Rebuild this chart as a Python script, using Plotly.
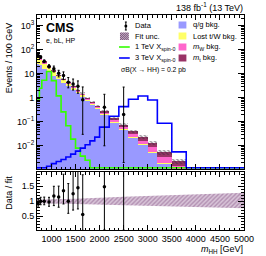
import plotly.graph_objects as go
import numpy as np

# ---------------- data ----------------
bin_edges = [700, 750, 800, 900, 1000, 1100, 1200, 1300, 1400, 1500, 1600, 1700,
             1800, 1900, 2000, 2200, 2400, 2600, 2800, 3000, 3200, 3500, 3800]
# background components (events / 100 GeV)
qg_bkg = [26, 23, 16.5, 11.5, 8.3, 6.0, 4.3, 3.1, 2.2, 1.57, 1.13, 0.76, 0.51, 0.34,
          0.19, 0.092, 0.045, 0.021, 0.011, 0.0052, 0.0018, 0.0007]
lost_tw_bkg = [18, 15, 9.3, 5.3, 3.1, 1.8, 1.07, 0.66, 0.39, 0.23, 0.135, 0.08, 0.048,
               0.028, 0.014, 0.0065, 0.003, 0.0014, 0.0007, 0.00035, 0.00014, 0.00005]
mw_bkg = [3.6, 3.0, 1.8, 1.1, 0.75, 0.52, 0.37, 0.27, 0.2, 0.15, 0.11, 0.08, 0.06,
          0.045, 0.031, 0.019, 0.012, 0.0075, 0.0048, 0.0031, 0.0015, 0.00065]
mt_bkg = [12.4, 9.0, 5.4, 3.1, 1.85, 0.98, 0.56, 0.37, 0.21, 0.15, 0.125, 0.08, 0.062,
          0.047, 0.035, 0.0225, 0.015, 0.0101, 0.0065, 0.0044, 0.0021, 0.0009]
fit_unc_rel = [0.07, 0.07, 0.07, 0.08, 0.08, 0.09, 0.09, 0.10, 0.10, 0.11, 0.11, 0.12,
               0.12, 0.13, 0.14, 0.15, 0.16, 0.18, 0.19, 0.20, 0.22, 0.24]
# data (events / 100 GeV); None = empty bin
data_vals = [57, 50, 33, 20.4, 16.4, 10.6, 8.5, 4.4, 3.75, 3.05, 0.83, None, None, None,
             0.4, None, 0.2, None, None, None, None, None]
data_err_lo = [7, 6, 4, 3, 4.5, 3.2, 2.8, 1.8, 1.65, 1.5, 0.8, 0, 0, 0,
               0.39, 0, 0.198, 0, 0, 0, 0, 0]
data_err_hi = [7.5, 6.5, 4.5, 3.3, 4.6, 3.4, 3.5, 2.6, 2.3, 2.0, 2.0, 0, 0, 0,
               1.0, 0, 2.6, 0, 0, 0, 0, 0]
# signals
sig_1tev = [0.8, 2.5, 5.4, 12.4, 5.2, 1.2, 0.26, 0.068, 0.019, 0.008, 0.0037, 0.0025,
            0, 0, 0, 0, 0, 0, 0, 0, 0, 0]
sig_3tev = [0, 0, 0, 0.0014, 0.0018, 0.0022, 0.0027, 0.0034, 0.0045, 0.006, 0.008, 0.011,
            0.016, 0.023, 0.06, 0.17, 0.43, 0.87, 1.19, 0.81, 0.087, 0.0056]
# ratio panel fit-uncertainty band
ratio_band_x = [700, 1500, 2500, 3500, 5000]
ratio_band_lo = [0.93, 0.90, 0.85, 0.81, 0.76]
ratio_band_hi = [1.05, 1.08, 1.15, 1.20, 1.28]

x_ticks = [1000, 1500, 2000, 2500, 3000, 3500, 4000, 4500, 5000]

# ---------------- geometry ----------------
W, H = 266, 256
L, R, T, B = 37, 249, 15, 230
YLOG_MIN, YLOG_MAX = -2.967, 3.45
YMIN = 10 ** YLOG_MIN


def px2x(px):
    return (px - L) / (R - L)


def px2y(py):
    return (B - py) / (B - T)


edges = np.array(bin_edges, dtype=float)
centers = 0.5 * (edges[1:] + edges[:-1])
widths = edges[1:] - edges[:-1]
qg = np.array(qg_bkg)
tw = np.array(lost_tw_bkg)
mw = np.array(mw_bkg)
mt = np.array(mt_bkg)
c1 = qg
c2 = c1 + tw
c3 = c2 + mw
c4 = c3 + mt
total = c4
unc = np.array(fit_unc_rel)

C_QG = "#9999ff"
C_TW = "#ffff66"
C_MW = "#ff66cc"
C_MT = "#993366"
C_GREEN = "#33ff00"
C_BLUE = "#0000ff"
FONT = "Liberation Sans, Arial, Helvetica, sans-serif"

fig = go.Figure()

for cum, col in [(c4, C_MT), (c3, C_MW), (c2, C_TW), (c1, C_QG)]:
    fig.add_trace(go.Bar(x=centers, y=cum, width=widths, marker=dict(color=col, line=dict(width=0)),
                         opacity=1, xaxis="x", yaxis="y", showlegend=False, hoverinfo="skip"))

# fit uncertainty hatched band
fig.add_trace(go.Bar(x=centers, y=total * 2 * unc, base=total * (1 - unc), width=widths,
                     marker=dict(color="rgba(0,0,0,0)", line=dict(width=0),
                                 pattern=dict(shape="\\", fgcolor="#3a2a3a", bgcolor="rgba(0,0,0,0)",
                                              size=3, solidity=0.5)),
                     xaxis="x", yaxis="y", showlegend=False, hoverinfo="skip"))


def step(vals):
    v = np.maximum(np.array(vals, dtype=float), YMIN * 1.12)
    xs = list(edges) + [5000]
    ys = list(v) + [YMIN * 1.12, YMIN * 1.12]
    return xs, ys


xs, ys = step(sig_1tev)
fig.add_trace(go.Scatter(x=xs, y=ys, mode="lines", line=dict(color=C_GREEN, width=1.6, shape="hv"),
                         xaxis="x", yaxis="y", showlegend=False, hoverinfo="skip"))
xs, ys = step(sig_3tev)
fig.add_trace(go.Scatter(x=xs, y=ys, mode="lines", line=dict(color=C_BLUE, width=1.6, shape="hv"),
                         xaxis="x", yaxis="y", showlegend=False, hoverinfo="skip"))

# data points
dmask = [v is not None for v in data_vals]
dx = centers[dmask]
dy = np.array([v for v in data_vals if v is not None])
dlo = np.array(data_err_lo)[dmask]
dhi = np.array(data_err_hi)[dmask]
fig.add_trace(go.Scatter(x=dx, y=dy, mode="markers", marker=dict(color="black", size=3.5),
                         error_y=dict(type="data", symmetric=False, array=dhi, arrayminus=dlo,
                                      color="black", thickness=1, width=1),
                         xaxis="x", yaxis="y", showlegend=False, hoverinfo="skip"))

# ratio band
bx = list(ratio_band_x) + list(ratio_band_x)[::-1]
by = list(ratio_band_hi) + list(ratio_band_lo)[::-1]
fig.add_trace(go.Scatter(x=bx, y=by, mode="lines", line=dict(width=0), fill="toself",
                         fillcolor="rgba(225,205,225,1)",
                         fillpattern=dict(shape="/", fgcolor="#8a5a8a", bgcolor="#d8c4d8", size=3, solidity=0.45),
                         xaxis="x2", yaxis="y2", showlegend=False, hoverinfo="skip"))

tot_d = total[dmask]
fig.add_trace(go.Scatter(x=dx, y=dy / tot_d, mode="markers", marker=dict(color="black", size=3.5),
                         error_y=dict(type="data", symmetric=False, array=dhi / tot_d, arrayminus=dlo / tot_d,
                                      color="black", thickness=1, width=1),
                         xaxis="x2", yaxis="y2", showlegend=False, hoverinfo="skip"))

# ---------------- axes ----------------
minor_log = [k * 10.0 ** n for n in range(-3, 4) for k in range(2, 10)]
axis_common = dict(showline=True, linecolor="black", linewidth=1, mirror="allticks", ticks="inside",
                   tickcolor="black", showgrid=False, zeroline=False,
                   tickfont=dict(family=FONT, size=9, color="black"))

top_dom = [px2y(169), 1]
low_dom = [0, px2y(172)]

fig.update_layout(
    width=W, height=H, margin=dict(l=L, r=W - R, t=T, b=H - B, pad=0),
    paper_bgcolor="white", plot_bgcolor="white", barmode="overlay", bargap=0,
    showlegend=False, font=dict(family=FONT, color="black"),
    xaxis=dict(axis_common, range=[700, 5000], tickvals=x_ticks, showticklabels=False, ticklen=5,
               minor=dict(ticks="inside", ticklen=2.5, dtick=100, tick0=0, tickcolor="black"),
               anchor="y", domain=[0, 1]),
    yaxis=dict(axis_common, type="log", range=[YLOG_MIN, YLOG_MAX], domain=top_dom, anchor="x",
               tickvals=[1e-2, 1e-1, 1, 10, 100, 1000],
               ticktext=["10<sup>−2</sup>", "10<sup>−1</sup>", "1", "10", "10<sup>2</sup>", "10<sup>3</sup>"],
               ticklen=6, minor=dict(ticks="inside", ticklen=3, tickvals=minor_log, tickcolor="black")),
    xaxis2=dict(axis_common, range=[700, 5000], tickvals=x_ticks, ticktext=[str(t) for t in x_ticks],
                ticklen=5, anchor="y2", domain=[0, 1],
                minor=dict(ticks="inside", ticklen=2.5, dtick=100, tick0=0, tickcolor="black")),
    yaxis2=dict(axis_common, range=[0.03, 1.98], domain=low_dom, anchor="x2",
                tickvals=[0.5, 1, 1.5], ticktext=["0.5", "1", "1.5"], ticklen=6,
                minor=dict(ticks="inside", ticklen=3, dtick=0.1, tick0=0, tickcolor="black")),
)

ann = []


def text(px, py, s, size, xanchor="left", yanchor="middle", bold=False, angle=0):
    ann.append(dict(x=px2x(px), y=px2y(py), xref="paper", yref="paper", text=("<b>%s</b>" % s) if bold else s,
                    showarrow=False, xanchor=xanchor, yanchor=yanchor, textangle=angle,
                    font=dict(family=FONT, size=size, color="black")))


text(250, 7, "138 fb<sup>-1</sup> (13 TeV)", 9, xanchor="right")
text(44, 28, "CMS", 12.5, bold=True)
text(44, 41, "e, bL, HP", 7)
text(8, 20, "Events / 100 GeV", 9, xanchor="center", yanchor="top", angle=-90)
text(8, 174, "Data / fit", 9, xanchor="center", yanchor="top", angle=-90)
text(250, 249, "<i>m</i><sub>HH</sub> [GeV]", 9, xanchor="right")

# legend column 1
text(135, 26, "Data", 7.5)
text(135, 36, "Fit unc.", 7.5)
text(135, 47, "1 TeV X<sub>spin-0</sub>", 7.5)
text(135, 58, "3 TeV X<sub>spin-0</sub>", 7.5)
text(121, 70, "σB(X → HH) = 0.2 pb", 6.8)
# legend column 2
text(195, 25, "q/g bkg.", 7.5)
text(195, 36, "Lost t/W bkg.", 7.5)
text(195, 47, "<i>m</i><sub>W</sub> bkg.", 7.5)
text(195, 58, "<i>m</i><sub>t</sub> bkg.", 7.5)

shapes = []


def rect(x0, y0, x1, y1, color, **kw):
    d = dict(type="rect", xref="paper", yref="paper", x0=px2x(x0), x1=px2x(x1), y0=px2y(y1), y1=px2y(y0),
             fillcolor=color, line=dict(width=0))
    d.update(kw)
    shapes.append(d)


def line(x0, y0, x1, y1, color, w):
    shapes.append(dict(type="line", xref="paper", yref="paper", x0=px2x(x0), x1=px2x(x1), y0=px2y(y0),
                       y1=px2y(y1), line=dict(color=color, width=w)))


# data swatch
line(128, 22, 128, 30, "black", 1)
line(127, 22, 129, 22, "black", 1)
line(127, 30, 129, 30, "black", 1)
shapes.append(dict(type="circle", xref="paper", yref="paper", x0=px2x(126.5), x1=px2x(129.5),
                   y0=px2y(27.5), y1=px2y(24.5), fillcolor="black", line=dict(width=0)))
# fit unc swatch (hatched)
rect(122, 32.5, 131, 40, "#c4a8c4")
for i in range(-8, 10, 2):
    xa, ya, xb, yb = 122 + i, 40, 122 + i + 7.5, 32.5
    if xa < 122:
        ya = 40 - (122 - xa); xa = 122
    if xb > 131:
        yb = 32.5 + (xb - 131); xb = 131
    if xa < xb:
        line(xa, ya, xb, yb, "#6a4a6a", 0.8)
line(121, 47, 132, 47, C_GREEN, 1.6)
line(121, 58, 132, 58, C_BLUE, 1.6)
rect(182, 21.5, 190, 28.5, C_QG)
rect(182, 32.5, 190, 39.5, C_TW)
rect(182, 43.5, 190, 50.5, C_MW)
rect(182, 54.5, 190, 61.5, C_MT)

fig.update_layout(annotations=ann, shapes=shapes)
fig.write_html("out.html", config=dict(displayModeBar=False, staticPlot=True),
               post_script="document.body.style.margin='0px';document.body.style.overflow='hidden';")
